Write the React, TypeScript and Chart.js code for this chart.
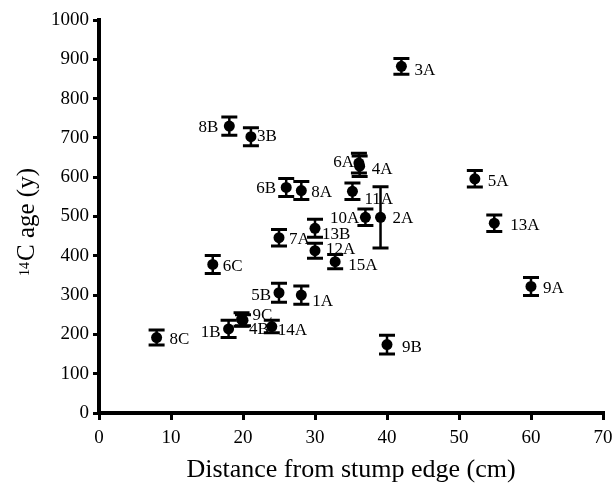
import React, { useEffect, useRef } from 'react';
import { Chart, registerables } from 'chart.js';

Chart.register(...registerables);

// ---- data ----
const sampleLabels = ['8C', '1B', '9C', '4B', '14A', '6C', '8B', '3B', '5B', '7A', '6B', '1A', '8A', '13B', '12A', '15A', '11A', '6A', '4A', '10A', '2A', '9B', '3A', '5A', '13A', '9A'];
const distances = [8, 18, 19.8, 20, 24, 15.8, 18.1, 21.1, 25, 25, 26, 28.1, 28.1, 30, 30, 32.8, 35.2, 36.1, 36.2, 37, 39.1, 40, 42, 52.2, 54.9, 60];
const ages = [192, 214, 238, 236, 220, 378, 730, 703, 306, 446, 574, 300, 566, 470, 413, 385, 564, 636, 628, 498, 498, 174, 882, 596, 483, 322];
const errors = [19, 22, 17, 14, 16, 23, 23, 23, 24, 21, 23, 23, 23, 23, 19, 18, 21, 25, 26, 21, 78, 24, 20, 21, 21, 23];
const xTicks = [0, 10, 20, 30, 40, 50, 60, 70];
const yTicks = [0, 100, 200, 300, 400, 500, 600, 700, 800, 900, 1000];

// ---- label placement (side, dx, dy in px) ----
const labelPlacement: Record<string, [string, number, number]> = {
  '8B': ['l', 11, 1], '3B': ['r', 6, 0], '6A': ['l', 5, -1], '4A': ['r', 12, 3],
  '6B': ['l', 10, 1], '8A': ['r', 10, 2], '11A': ['r', 12, 8], '10A': ['l', 6, 1],
  '2A': ['r', 12, 1], '13B': ['r', 7, 6], '7A': ['r', 10, 2], '12A': ['r', 11, -1],
  '15A': ['r', 13, 4], '6C': ['r', 10, 2], '5B': ['l', 8, 3], '1A': ['r', 11, 6],
  '9C': ['r', 11, -4], '1B': ['l', 8, 4], '4B': ['r', 6, 9], '14A': ['r', 6, 4],
  '8C': ['r', 13, 2], '3A': ['r', 13, 4], '5A': ['r', 13, 3], '13A': ['r', 16, 2],
  '9A': ['r', 12, 2], '9B': ['r', 15, 3],
};

const FONT = "'Liberation Serif', 'Times New Roman', serif";

const errorBarPlugin = {
  id: 'errorBars',
  beforeDatasetsDraw(chart: any) {
    const { ctx, scales } = chart;
    const xs = scales.x, ys = scales.y;
    ctx.save();
    ctx.strokeStyle = '#000';
    for (let i = 0; i < distances.length; i++) {
      const px = xs.getPixelForValue(distances[i]);
      const top = ys.getPixelForValue(ages[i] + errors[i]);
      const bot = ys.getPixelForValue(ages[i] - errors[i]);
      ctx.lineWidth = 2.5;
      ctx.beginPath();
      ctx.moveTo(px, top);
      ctx.lineTo(px, bot);
      ctx.stroke();
      ctx.lineWidth = 3;
      ctx.beginPath();
      ctx.moveTo(px - 8, top);
      ctx.lineTo(px + 8, top);
      ctx.moveTo(px - 8, bot);
      ctx.lineTo(px + 8, bot);
      ctx.stroke();
    }
    ctx.restore();
  },
  afterDatasetsDraw(chart: any) {
    const { ctx, scales } = chart;
    const xs = scales.x, ys = scales.y;
    ctx.save();
    ctx.fillStyle = '#000';
    ctx.font = `17px ${FONT}`;
    ctx.textBaseline = 'middle';
    for (let i = 0; i < distances.length; i++) {
      const px = xs.getPixelForValue(distances[i]);
      const py = ys.getPixelForValue(ages[i]);
      const [side, dx, dy] = labelPlacement[sampleLabels[i]] || ['r', 11, 3];
      if (side === 'l') {
        ctx.textAlign = 'right';
        ctx.fillText(sampleLabels[i], px - dx, py + dy);
      } else {
        ctx.textAlign = 'left';
        ctx.fillText(sampleLabels[i], px + dx, py + dy);
      }
    }
    // y axis title with superscript
    const cy = (chart.chartArea.top + chart.chartArea.bottom) / 2 + 6;
    ctx.translate(34, cy);
    ctx.rotate(-Math.PI / 2);
    ctx.textBaseline = 'alphabetic';
    ctx.textAlign = 'left';
    ctx.font = `14px ${FONT}`;
    const supW = ctx.measureText('14').width;
    ctx.font = `25px ${FONT}`;
    const mainW = ctx.measureText('C age (y)').width;
    const start = -(supW + mainW) / 2;
    ctx.font = `14px ${FONT}`;
    ctx.fillText('14', start, -5);
    ctx.font = `25px ${FONT}`;
    ctx.fillText('C age (y)', start + supW + 1, 0);
    ctx.restore();
  },
};

export default function App() {
  const ref = useRef<HTMLCanvasElement | null>(null);
  useEffect(() => {
    if (!ref.current) return;
    const chart = new Chart(ref.current, {
      type: 'scatter',
      data: {
        datasets: [
          {
            data: distances.map((d, i) => ({ x: d, y: ages[i] })),
            backgroundColor: '#000',
            borderColor: '#000',
            pointRadius: 5.5,
            pointBorderWidth: 0,
          },
        ],
      },
      options: {
        responsive: false,
        animation: false,
        layout: { padding: { left: 0, right: 13, top: 20, bottom: 0 } },
        plugins: { legend: { display: false }, tooltip: { enabled: false } },
        scales: {
          x: {
            type: 'linear',
            min: 0,
            max: 70,
            afterFit: (s: any) => { s.height = 73; s.paddingLeft = 0; s.paddingRight = 0; },
            afterBuildTicks: (s: any) => { s.ticks = xTicks.map((v) => ({ value: v })); },
            ticks: { color: '#000', font: { family: FONT, size: 19 }, padding: 7, maxRotation: 0, callback: (v: any) => String(v) },
            grid: { drawOnChartArea: false, drawTicks: true, tickLength: 7, color: '#000', lineWidth: 3 },
            border: { display: true, color: '#000', width: 4 },
            title: {
              display: true,
              text: 'Distance from stump edge (cm)',
              color: '#000',
              font: { family: FONT, size: 26, lineHeight: 1.2 },
              padding: { top: 0, bottom: 0 },
            },
          },
          y: {
            type: 'linear',
            min: 0,
            max: 1000,
            afterFit: (s: any) => { s.width = 99; s.paddingTop = 0; s.paddingBottom = 0; },
            afterBuildTicks: (s: any) => { s.ticks = yTicks.map((v) => ({ value: v })); },
            ticks: { color: '#000', font: { family: FONT, size: 19 }, padding: 4, callback: (v: any) => String(v) },
            grid: { drawOnChartArea: false, drawTicks: true, tickLength: 6, color: '#000', lineWidth: 3 },
            border: { display: true, color: '#000', width: 4 },
          },
        },
      },
      plugins: [errorBarPlugin],
    });
    return () => chart.destroy();
  }, []);
  return (
    <div style={{ position: 'absolute', left: 0, top: 0, width: 616, height: 486, background: '#fff' }}>
      <canvas ref={ref} width={616} height={486} style={{ width: 616, height: 486, display: 'block' }} />
    </div>
  );
}
